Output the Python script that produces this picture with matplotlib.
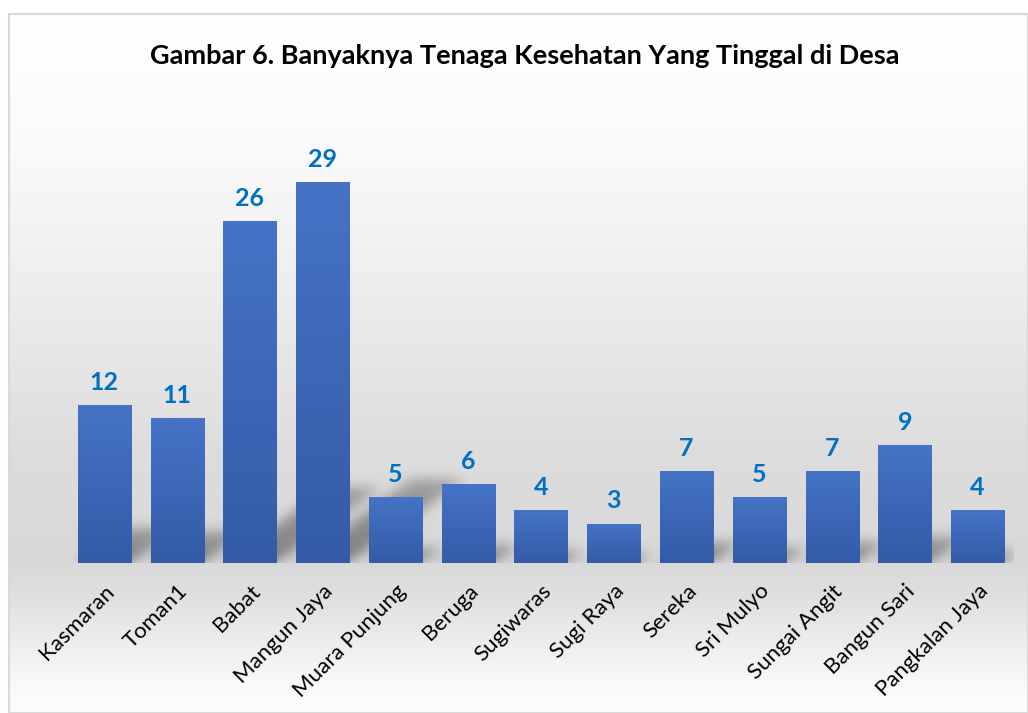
import matplotlib.pyplot as plt
from matplotlib.patches import Rectangle
import numpy as np

desa = ["Kasmaran", "Toman1", "Babat", "Mangun Jaya", "Muara Punjung", "Beruga",
        "Sugiwaras", "Sugi Raya", "Sereka", "Sri Mulyo", "Sungai Angit",
        "Bangun Sari", "Pangkalan Jaya"]
jumlah = [12, 11, 26, 29, 5, 6, 4, 3, 7, 5, 7, 9, 4]

judul = "Gambar 6. Banyaknya Tenaga Kesehatan Yang Tinggal di Desa"

plt.rcParams['font.family'] = ['Lato', 'DejaVu Sans']

W, H = 1028, 713
fig = plt.figure(figsize=(W / 100, H / 100), dpi=100)
fig.patch.set_facecolor("white")

# background gradient of the chart box (white -> gray -> white)
bg = fig.add_axes([9 / W, 0, 1 - 9 / W, (H - 14) / H], zorder=-5)
ys = np.array([14, 150, 300, 450, 560, 600, 680, 713])
gv = np.array([255, 250, 236, 221, 216, 225, 248, 253]) / 255
yy = np.arange(14, 713)
col = np.interp(yy, ys, gv)
bg.imshow(np.repeat(col[:, None], 3, axis=1)[:, None, :], aspect="auto",
          extent=[0, 1, 0, 1])
bg.set_xlim(0, 1)
bg.set_ylim(0, 1)
bg.axis("off")
bg.add_patch(Rectangle((0, 0), 1, 1, transform=bg.transAxes, fill=False,
                       edgecolor="#D9D9D9", lw=1.5, clip_on=False))

# plot area
ax = fig.add_axes([68 / W, 150 / H, (1014 - 68) / W, 460 / H])
ax.set_xlim(-0.5, len(desa) - 0.5)
ax.set_ylim(0, 460 / 13.14)
ax.patch.set_alpha(0)

x = np.arange(len(desa))
lebar = 0.73
bars = ax.bar(x, jumlah, width=lebar, color="#3F69B8", zorder=3)

# gradient fill per bar
grad = np.linspace(0, 1, 100)[:, None]
top = np.array([0x46, 0x73, 0xC6]) / 255
bot = np.array([0x33, 0x5B, 0xA7]) / 255
img = top[None, None, :] * (1 - grad[:, :, None]) + bot[None, None, :] * grad[:, :, None]
for b in bars:
    x0, y0 = b.get_x(), b.get_y()
    im = ax.imshow(img, extent=[x0, x0 + b.get_width(), y0, y0 + b.get_height()],
                   aspect="auto", zorder=4)
    im.set_clip_path(b)

# soft perspective shadow behind the bars
nx, ny = 946, 131
gx = np.linspace(-0.5, len(desa) - 0.5, nx)
gy = np.linspace(0, 10, ny)
X, Y = np.meshgrid(gx, gy)
mask = np.zeros_like(X)
for xi, v in zip(x, jumlah):
    tinggi = 0.22 * v
    geser = 0.25 * Y
    m = (Y <= tinggi) & (X >= xi - lebar / 2 + geser) & (X <= xi + lebar / 2 + geser)
    mask = np.maximum(mask, m * (1 - 0.35 * Y / max(tinggi, 1e-6)))
sig = 6
k = np.arange(-3 * sig, 3 * sig + 1)
ker = np.exp(-k ** 2 / (2 * sig ** 2))
ker /= ker.sum()
pad = len(k)
mp = np.pad(mask, ((pad, pad), (pad, pad)))
mp = np.apply_along_axis(lambda r: np.convolve(r, ker, mode="same"), 1, mp)
mp = np.apply_along_axis(lambda c: np.convolve(c, ker, mode="same"), 0, mp)
mask = mp[pad:-pad, pad:-pad]
shadow = np.zeros((ny, nx, 4))
shadow[..., 3] = mask * 0.42
ax.imshow(shadow, extent=[-0.5, len(desa) - 0.5, 0, 10], origin="lower",
          aspect="auto", zorder=2)
ax.set_xlim(-0.5, len(desa) - 0.5)
ax.set_ylim(0, 460 / 13.14)

ax.bar_label(bars, padding=8, fontsize=18, fontweight="bold", color="#0070C0")

ax.set_xticks(x)
ax.set_xticklabels(desa, rotation=45, ha="right", rotation_mode="anchor",
                   fontsize=16, color="black")
ax.tick_params(axis="x", length=0, pad=13)
ax.set_yticks([])
for s in ax.spines.values():
    s.set_visible(False)

fig.text(525 / W, 1 - 56 / H, judul, ha="center", va="center",
         fontsize=19.5, fontweight="bold", color="black")

fig.savefig("out.png", dpi=100)
